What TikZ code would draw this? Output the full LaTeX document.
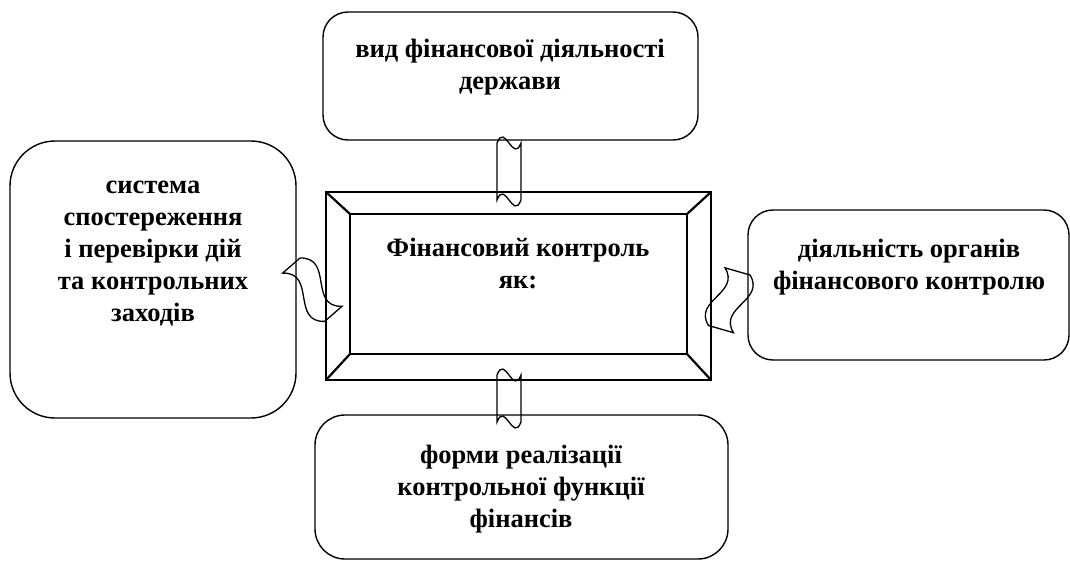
\documentclass[tikz,border=0pt]{standalone}
\usepackage{fontspec}
\setmainfont{Liberation Serif}
\usetikzlibrary{calc}
\def\wavelink(#1)(#2:#3:#4:#5){%
  \begin{scope}[shift={(#1)},rotate=#2]
    \draw[line width=1.3pt] (0,0) .. controls (#3/3,-#5) and (2*#3/3,#5) .. (#3,0) -- (#3,#4) .. controls (2*#3/3,#4+#5) and (#3/3,#4-#5) .. (0,#4) -- cycle;
  \end{scope}}

\begin{document}
\begin{tikzpicture}[x=1pt,y=-1pt,
    txt/.style={align=center,font=\fontsize{26.5}{32}\selectfont\bfseries},
    box/.style={line width=1.4pt},
    frame/.style={line width=2.2pt}]
			\useasboundingbox (0,0) rectangle (1070,560);
			%%%%% BOXES %%%%%
			\draw[box,rounded corners=25pt] (323,12) rectangle (698,140);
			\node[txt] (kind) at (510,67) {вид фінансової діяльності\\держави};
			
			\draw[box,rounded corners=45pt] (10,141) rectangle (296,418);
			\node[txt] (sys) at (153,254) {система\\спостереження\\і перевірки дій\\та контрольних\\заходів};
			
			\draw[box,rounded corners=25pt] (748,210) rectangle (1069,360);
			\node[txt] (org) at (909,267) {діяльність органів\\фінансового контролю};
			
			\draw[box,rounded corners=30pt] (315,415) rectangle (728,559);
			\node[txt] (form) at (521,489) {форми реалізації\\контрольної функції\\фінансів};
			
			%%%%% FRAME %%%%%
			\draw[frame] (326,192) rectangle (711,380);
			\draw[frame] (350,214) rectangle (687,354);
			\draw[frame] (326,192) -- (350,214);
			\draw[frame] (711,192) -- (687,214);
			\draw[frame] (326,380) -- (350,354);
			\draw[frame] (711,380) -- (687,354);
			\node[txt] (fc) at (518,263) {Фінансовий контроль\\як:};
			
			%%%%% LINKS %%%%%
			\wavelink(497,143)(0:24:57:21)
			\wavelink(497,375)(0:24:47:21)
			\wavelink(300,258)(-49:64:23:26)
			\wavelink(750,275)(-106:60:26:22)
		\end{tikzpicture}
\end{document}
